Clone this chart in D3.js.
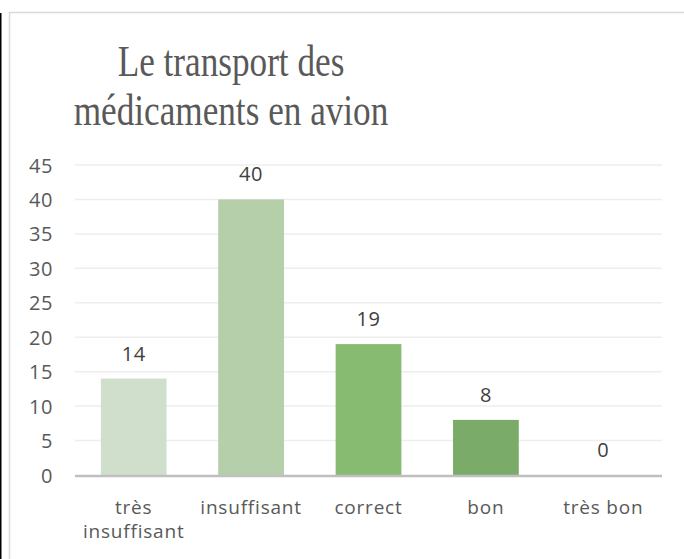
<!DOCTYPE html>
<html>
<head>
<meta charset="utf-8">
<script src="https://cdn.jsdelivr.net/npm/d3@7"></script>
<style>
  body { margin: 0; background: #fff; }
  svg { display: block; }
  .tick text { fill: #595959; }
</style>
</head>
<body>
<div id="chart"></div>
<script>
// data
var categories = ["très insuffisant", "insuffisant", "correct", "bon", "très bon"];
var values = [14, 40, 19, 8, 0];
var barColors = ["#d0dfcc", "#b4cfa9", "#87bb72", "#7bab69", "#6e9a5e"];
var yTicks = [0, 5, 10, 15, 20, 25, 30, 35, 40, 45];
var titleLines = ["Le transport des", "médicaments en avion"];

var svgWidth = 684;
var svgHeight = 559;

var svg = d3.select("#chart")
  .append("svg")
  .attr("width", svgWidth)
  .attr("height", svgHeight);

// frame
svg.append("line")
  .attr("x1", 0.5).attr("x2", 0.5)
  .attr("y1", 13).attr("y2", svgHeight)
  .attr("stroke", "#000").attr("stroke-width", 2);

svg.append("path")
  .attr("d", `M9.5,${svgHeight} V12.5 H${svgWidth}`)
  .attr("fill", "none")
  .attr("stroke", "#d9d9d9")
  .attr("stroke-width", 1.5);

// title
var title = svg.append("g")
  .attr("transform", "translate(231, 0)");
titleLines.forEach(function (t, i) {
  title.append("text")
    .attr("transform", `translate(0, ${76 + i * 49}) scale(0.8, 1)`)
    .attr("text-anchor", "middle")
    .attr("font-family", "'Liberation Serif', 'Times New Roman', serif")
    .attr("font-size", 44)
    .attr("fill", "#595959")
    .text(t);
});

// scales
var x = d3.scaleBand()
  .domain(categories)
  .range([75, 662])
  .paddingInner(0.44)
  .paddingOuter(0.22);

var y = d3.scaleLinear()
  .domain([0, 45])
  .range([475, 165]);

// gridlines
svg.append("g")
  .selectAll("line")
  .data(yTicks.filter(d => d > 0))
  .enter()
  .append("line")
  .attr("x1", 75).attr("x2", 662)
  .attr("y1", d => y(d)).attr("y2", d => y(d))
  .attr("stroke", "#eeeeee")
  .attr("stroke-width", 1.5);

// y axis
var leftAxis = d3.axisLeft(y).tickValues(yTicks).tickSize(0).tickPadding(0);
var yAxis = svg.append("g")
  .attr("transform", "translate(53, 0)")
  .call(leftAxis);
yAxis.select(".domain").remove();
yAxis.selectAll("text")
  .attr("font-family", "'Open Sans', sans-serif")
  .attr("font-size", 20)
  .attr("letter-spacing", 0.6)
  .attr("dy", "0.35em");

// bars
svg.append("g")
  .selectAll("rect")
  .data(values)
  .enter()
  .append("rect")
  .attr("x", (d, i) => x(categories[i]))
  .attr("y", d => y(d))
  .attr("width", x.bandwidth())
  .attr("height", d => y(0) - y(d))
  .attr("fill", (d, i) => barColors[i]);

// baseline
svg.append("line")
  .attr("x1", 75).attr("x2", 662)
  .attr("y1", y(0) + 1).attr("y2", y(0) + 1)
  .attr("stroke", "#bfbfbf")
  .attr("stroke-width", 2.5);

// value labels
svg.append("g")
  .selectAll("text")
  .data(values)
  .enter()
  .append("text")
  .attr("x", (d, i) => x(categories[i]) + x.bandwidth() / 2)
  .attr("y", d => y(d) - 18)
  .attr("text-anchor", "middle")
  .attr("font-family", "'Open Sans', sans-serif")
  .attr("font-size", 20)
  .attr("letter-spacing", 0.6)
  .attr("fill", "#404040")
  .text(d => d);

// category labels
var catLabels = svg.append("g")
  .selectAll("text")
  .data(categories)
  .enter()
  .append("text")
  .attr("x", d => x(d) + x.bandwidth() / 2)
  .attr("y", 514)
  .attr("text-anchor", "middle")
  .attr("font-family", "'Open Sans', sans-serif")
  .attr("font-size", 19)
  .attr("letter-spacing", 0.8)
  .attr("fill", "#595959");

catLabels.each(function (d) {
  var words = d === "très insuffisant" ? ["très", "insuffisant"] : [d];
  var el = d3.select(this);
  words.forEach(function (w, i) {
    el.append("tspan")
      .attr("x", x(d) + x.bandwidth() / 2)
      .attr("dy", i === 0 ? 0 : 24)
      .text(w);
  });
});
</script>
</body>
</html>
